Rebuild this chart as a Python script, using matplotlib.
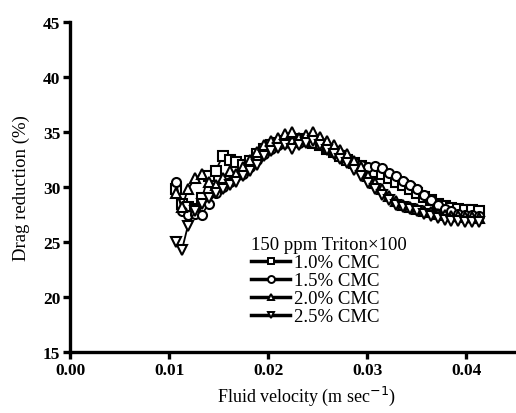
import matplotlib
matplotlib.use("Agg")
from matplotlib import pyplot as plt
from matplotlib.lines import Line2D

plt.rcParams["font.family"] = ["Liberation Serif", "DejaVu Serif"]

velocity = [0.0107, 0.0113, 0.0119, 0.0126, 0.0133, 0.0140, 0.0147, 0.0154, 0.0161,
            0.0168, 0.0175, 0.0182, 0.0189, 0.0196, 0.0203, 0.0210, 0.0217, 0.0224,
            0.0231, 0.0238, 0.0245, 0.0252, 0.0259, 0.0266, 0.0273, 0.0280, 0.0287,
            0.0294, 0.0301, 0.0308, 0.0315, 0.0322, 0.0329, 0.0336, 0.0343, 0.0350,
            0.0357, 0.0364, 0.0371, 0.0378, 0.0385, 0.0392, 0.0399, 0.0406, 0.0413]

cmc_10 = [29.8, 28.5, 28.2, 28.0, 29.0, 31.0, 31.5, 32.8, 32.5, 32.3, 32.0, 32.4, 33.0,
          33.5, 33.8, 34.0, 34.2, 34.3, 34.4, 34.2, 34.0, 33.8, 33.5, 33.2, 32.8, 32.5,
          32.2, 31.9, 31.6, 31.4, 31.2, 30.8, 30.5, 30.2, 29.8, 29.5, 29.1, 28.8, 28.5,
          28.3, 28.1, 28.0, 27.9, 27.9, 27.8]
cmc_15 = [30.5, 27.8, 27.5, 27.6, 27.5, 28.5, 29.5, 30.0, 30.5, 31.0, 31.2, 31.8, 32.5,
          33.0, 33.5, 33.8, 34.0, 34.1, 34.0, 34.2, 34.0, 33.8, 33.5, 33.2, 33.0, 32.6,
          32.3, 32.0, 31.8, 31.9, 31.7, 31.3, 31.0, 30.6, 30.2, 29.8, 29.3, 28.8, 28.4,
          28.0, 27.8, 27.6, 27.5, 27.5, 27.4]
cmc_20 = [29.5, 28.2, 29.8, 30.8, 31.2, 30.5, 30.2, 30.8, 31.5, 31.2, 31.8, 32.5, 33.2,
          33.8, 34.2, 34.5, 34.8, 35.0, 34.5, 34.7, 35.0, 34.6, 34.2, 33.8, 33.4, 33.0,
          32.4, 31.8, 31.0, 30.4, 29.8, 29.2, 28.7, 28.4, 28.2, 28.0, 27.8, 27.7, 27.6,
          27.5, 27.4, 27.4, 27.3, 27.3, 27.2]
cmc_25 = [25.0, 24.3, 26.5, 27.8, 28.5, 29.0, 29.5, 29.8, 30.2, 30.5, 31.0, 31.5, 32.0,
          32.8, 33.3, 33.6, 33.8, 33.5, 33.8, 34.0, 34.2, 33.8, 33.4, 33.0, 32.6, 32.2,
          31.6, 31.0, 30.4, 29.8, 29.3, 28.8, 28.4, 28.2, 28.0, 27.8, 27.6, 27.4, 27.2,
          27.0, 26.9, 26.9, 26.8, 26.8, 26.8]

series = [("1.0% CMC", cmc_10, "s"), ("1.5% CMC", cmc_15, "o"),
          ("2.0% CMC", cmc_20, "^"), ("2.5% CMC", cmc_25, "v")]

fig = plt.figure(figsize=(5.16, 4.14), dpi=100)
ax = fig.add_axes([0.1357, 0.147, 0.864, 0.797])

handles = []
for label, values, marker in series:
    ax.plot(velocity, values, color="black", lw=1.3, marker=marker, markersize=6.5,
            markerfacecolor="white", markeredgecolor="black", markeredgewidth=1.5)
    handles.append(Line2D([0], [0], color="black", lw=2.5, marker=marker, markersize=5,
                          markerfacecolor="white", markeredgecolor="black",
                          markeredgewidth=1.4, label=label))

ax.set_xlim(0, 0.045)
ax.set_ylim(15, 45)
ax.set_xticks([0.00, 0.01, 0.02, 0.03, 0.04])
ax.set_xticklabels(["0.00", "0.01", "0.02", "0.03", "0.04"])
ax.set_yticks([15, 20, 25, 30, 35, 40, 45])

for side in ["top", "right"]:
    ax.spines[side].set_visible(False)
for side in ["left", "bottom"]:
    ax.spines[side].set_linewidth(2.4)
ax.tick_params(direction="out", length=5, width=2.4, labelsize=12.5, pad=2)
for t in ax.get_xticklabels() + ax.get_yticklabels():
    t.set_fontweight("bold")

ax.set_xlabel("Fluid velocity (m sec$^{-1}$)", fontsize=13)
ax.xaxis.set_label_coords(0.53, -0.095)
ax.set_ylabel("Drag reduction (%)", fontsize=13.5)
ax.yaxis.set_label_coords(-0.09, 0.5)

ax.legend(handles=handles, title="150 ppm Triton\u00d7100", loc="upper left",
          bbox_to_anchor=(0.468, 0.45), bbox_transform=fig.transFigure,
          frameon=False, fontsize=13.5, title_fontsize=13.5, handlelength=2.1,
          handletextpad=0.2, labelspacing=0.05, borderpad=0, alignment="left")

fig.savefig("out.png", dpi=100)
